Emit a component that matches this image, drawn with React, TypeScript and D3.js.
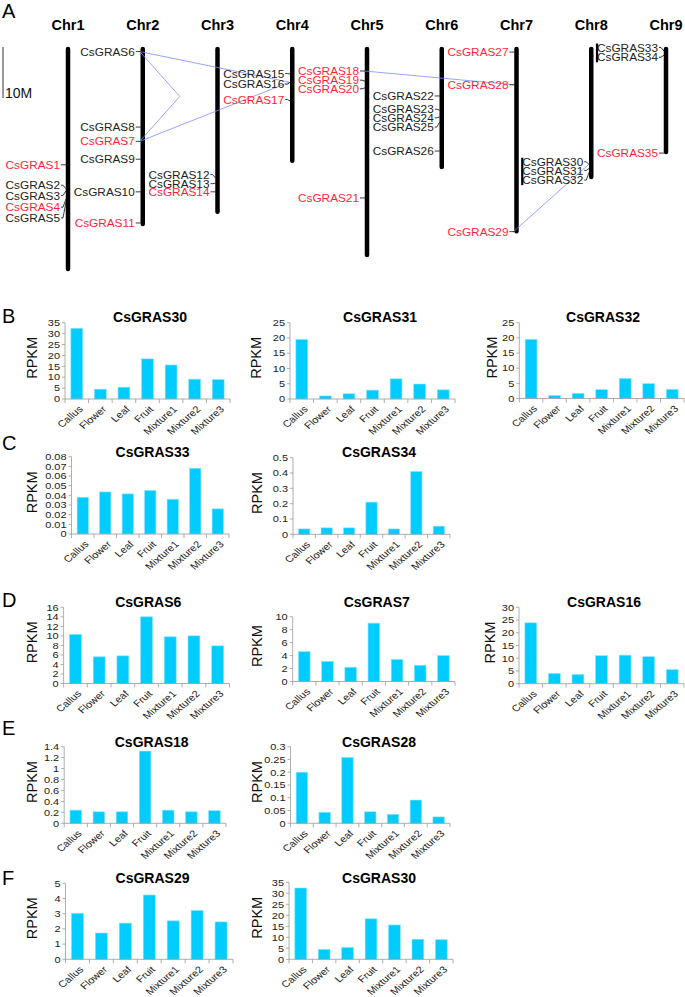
import React from "react";
import * as d3 from "d3";

// ---------- Panel A data ----------
const chromosomes = ["Chr1", "Chr2", "Chr3", "Chr4", "Chr5", "Chr6", "Chr7", "Chr8", "Chr9"];
const chromosomeLengthMb = [43.9, 35.1, 32.7, 22.7, 41.2, 23.9, 36.5, 25.9, 21.0];
const scaleBarMb = 10;

const geneNames = [
  "CsGRAS1", "CsGRAS2", "CsGRAS3", "CsGRAS4", "CsGRAS5",
  "CsGRAS6", "CsGRAS8", "CsGRAS7", "CsGRAS9", "CsGRAS10", "CsGRAS11",
  "CsGRAS12", "CsGRAS13", "CsGRAS14",
  "CsGRAS15", "CsGRAS16", "CsGRAS17",
  "CsGRAS18", "CsGRAS19", "CsGRAS20", "CsGRAS21",
  "CsGRAS22", "CsGRAS23", "CsGRAS24", "CsGRAS25", "CsGRAS26",
  "CsGRAS27", "CsGRAS28", "CsGRAS29",
  "CsGRAS30", "CsGRAS31", "CsGRAS32",
  "CsGRAS33", "CsGRAS34", "CsGRAS35",
];
const geneChromosome = [
  "Chr1", "Chr1", "Chr1", "Chr1", "Chr1",
  "Chr2", "Chr2", "Chr2", "Chr2", "Chr2", "Chr2",
  "Chr3", "Chr3", "Chr3",
  "Chr4", "Chr4", "Chr4",
  "Chr5", "Chr5", "Chr5", "Chr5",
  "Chr6", "Chr6", "Chr6", "Chr6", "Chr6",
  "Chr7", "Chr7", "Chr7",
  "Chr8", "Chr8", "Chr8",
  "Chr9", "Chr9", "Chr9",
];
const genePositionMb = [
  23.1, 27.8, 28.2, 29.8, 30.4,
  0.9, 15.7, 18.5, 22.0, 28.4, 34.5,
  25.7, 26.7, 28.4,
  5.3, 6.9, 10.6,
  4.7, 6.7, 8.0, 29.6,
  9.6, 12.4, 13.7, 14.7, 20.4,
  1.0, 7.4, 36.2,
  23.1, 23.8, 24.5,
  0.8, 1.6, 20.8,
];
const geneLabelMb = [
  23.1, 27.1, 29.1, 31.4, 33.5,
  0.9, 15.7, 18.5, 22.0, 28.4, 34.5,
  25.0, 26.8, 28.4,
  5.2, 7.3, 10.3,
  4.7, 6.5, 8.2, 29.6,
  9.6, 12.2, 13.9, 15.7, 20.4,
  1.0, 7.4, 36.2,
  22.5, 24.2, 26.1,
  0.1, 2.0, 20.8,
];
const geneHighlighted = [
  true, false, false, true, false,
  false, false, true, false, false, true,
  false, false, true,
  false, false, true,
  true, true, true, true,
  false, false, false, false, false,
  true, true, true,
  false, false, false,
  false, false, true,
];
const duplicatedPairs = [
  ["CsGRAS6", "CsGRAS16"],
  ["CsGRAS6", "CsGRAS7"],
  ["CsGRAS7", "CsGRAS16"],
  ["CsGRAS18", "CsGRAS28"],
  ["CsGRAS29", "CsGRAS30"],
];
const tandemGroups = [
  ["CsGRAS30", "CsGRAS31", "CsGRAS32"],
  ["CsGRAS33", "CsGRAS34"],
];

// ---------- Expression data ----------
const tissues = ["Callus", "Flower", "Leaf", "Fruit", "Mixture1", "Mixture2", "Mixture3"];
const rpkmCsGRAS30 = [32.4, 4.5, 5.4, 18.4, 15.6, 9.1, 8.9];
const rpkmCsGRAS31 = [19.5, 1.0, 1.7, 2.9, 6.6, 4.9, 3.0];
const rpkmCsGRAS32 = [19.5, 1.0, 1.7, 2.9, 6.6, 4.9, 3.0];
const rpkmCsGRAS33 = [0.038, 0.0435, 0.0415, 0.045, 0.036, 0.068, 0.026];
const rpkmCsGRAS34 = [0.035, 0.042, 0.042, 0.21, 0.035, 0.41, 0.053];
const rpkmCsGRAS6 = [10.3, 5.6, 5.8, 14.0, 9.8, 10.0, 7.9];
const rpkmCsGRAS7 = [4.6, 3.1, 2.2, 9.0, 3.4, 2.5, 4.0];
const rpkmCsGRAS16 = [23.9, 4.0, 3.6, 11.0, 11.2, 10.6, 5.5];
const rpkmCsGRAS18 = [0.24, 0.21, 0.21, 1.32, 0.24, 0.21, 0.23];
const rpkmCsGRAS28 = [0.2, 0.043, 0.258, 0.045, 0.035, 0.091, 0.025];
const rpkmCsGRAS29 = [3.03, 1.73, 2.38, 4.23, 2.53, 3.21, 2.46];

const chartTitles = ["CsGRAS30", "CsGRAS31", "CsGRAS32", "CsGRAS33", "CsGRAS34", "CsGRAS6", "CsGRAS7", "CsGRAS16", "CsGRAS18", "CsGRAS28", "CsGRAS29", "CsGRAS30"];
const chartValues = [rpkmCsGRAS30, rpkmCsGRAS31, rpkmCsGRAS32, rpkmCsGRAS33, rpkmCsGRAS34, rpkmCsGRAS6, rpkmCsGRAS7, rpkmCsGRAS16, rpkmCsGRAS18, rpkmCsGRAS28, rpkmCsGRAS29, rpkmCsGRAS30];
const chartAxisMax = [35, 25, 25, 0.08, 0.5, 16, 10, 30, 1.4, 0.3, 5, 35];
const chartAxisStep = [5, 5, 5, 0.01, 0.1, 2, 2, 5, 0.2, 0.05, 1, 5];
const panelLetters = ["A", "B", "C", "D", "E", "F"];
const axisLabel = "RPKM";

// ---------- Layout (not data) ----------
const FONT = "'Liberation Sans', Arial, Helvetica, sans-serif";
const RED = "#ff1f3d";
const BLUE_LINK = "#7f8cff";
const BAR = "#00ccff";
const AXIS = "#9a9a9a";
const SQUASH = 0.85;

const layouts = [
  { x0: 65, x1: 230, yTop: 322.7, yBottom: 399, titleX: 150, titleY: 317, labelX: 31.7 },
  { x0: 290, x1: 455, yTop: 322.7, yBottom: 399, titleX: 380, titleY: 317, labelX: 256 },
  { x0: 519.3, x1: 684, yTop: 322.7, yBottom: 398.5, titleX: 603, titleY: 317, labelX: 491.7 },
  { x0: 71.5, x1: 229, yTop: 456.7, yBottom: 534, titleX: 152.5, titleY: 451.7, labelX: 31.7 },
  { x0: 293, x1: 450, yTop: 457.7, yBottom: 534.3, titleX: 379, titleY: 451.7, labelX: 256.7 },
  { x0: 63.6, x1: 229.5, yTop: 607.3, yBottom: 683.5, titleX: 148.3, titleY: 601.7, labelX: 31.7 },
  { x0: 292.7, x1: 455, yTop: 616.7, yBottom: 681.5, titleX: 376.7, titleY: 601.7, labelX: 256.7 },
  { x0: 519, x1: 684, yTop: 607.3, yBottom: 683.7, titleX: 604, titleY: 601.7, labelX: 490 },
  { x0: 64.2, x1: 226, yTop: 746.7, yBottom: 823.3, titleX: 151.7, titleY: 741.7, labelX: 31.7 },
  { x0: 290.5, x1: 450, yTop: 746.7, yBottom: 823.3, titleX: 379, titleY: 741.7, labelX: 256.7 },
  { x0: 65.5, x1: 233, yTop: 883.3, yBottom: 959.3, titleX: 152.5, titleY: 878.3, labelX: 32.3 },
  { x0: 289, x1: 453, yTop: 882.3, yBottom: 959.3, titleX: 379, titleY: 878.3, labelX: 256.7 },
];
const letterPos = [
  [2, 18], [2, 323], [2, 450], [2, 607], [2, 735], [2, 885],
];

function fmt(v: number) {
  return String(+v.toFixed(4));
}

function BarChart({ idx }: { idx: number }) {
  const L = layouts[idx];
  const values = chartValues[idx];
  const yMax = chartAxisMax[idx];
  const yStep = chartAxisStep[idx];
  const x = d3.scaleBand<string>().domain(tissues).range([L.x0, L.x1]).paddingInner(0.5).paddingOuter(0.25);
  const y = d3.scaleLinear().domain([0, yMax]).range([L.yBottom, L.yTop]);
  const n = Math.round(yMax / yStep);
  const ticks = d3.range(0, n + 1).map((i) => +(i * yStep).toFixed(5));
  const step = (L.x1 - L.x0) / tissues.length;
  return (
    <g>
      <text x={L.titleX} y={L.titleY + 5} textAnchor="middle" fontWeight="bold" fontSize={14} fill="#000">
        {chartTitles[idx]}
      </text>
      <text
        transform={`translate(${L.labelX},${(L.yTop + L.yBottom) / 2 - 3}) rotate(-90)`}
        textAnchor="middle"
        dy="0.35em"
        fontSize={14.5}
        fill="#111"
      >
        {axisLabel}
      </text>
      {ticks.map((t) => (
        <g key={t}>
          <line x1={L.x0 - 3} x2={L.x0} y1={y(t)} y2={y(t)} stroke={AXIS} strokeWidth={0.8} />
          <text
            transform={`translate(${L.x0 - 5},${y(t)}) scale(1,${SQUASH})`}
            dy="0.35em"
            textAnchor="end"
            fontSize={11}
            fill="#222"
          >
            {fmt(t)}
          </text>
        </g>
      ))}
      {tissues.map((t, i) => (
        <rect
          key={t}
          x={x(t)}
          y={y(values[i])}
          width={x.bandwidth()}
          height={L.yBottom - y(values[i])}
          fill={BAR}
          stroke="#7fe3ff"
          strokeWidth={0.6}
        />
      ))}
      <line x1={L.x0} x2={L.x0} y1={L.yTop} y2={L.yBottom} stroke={AXIS} strokeWidth={0.8} />
      <line x1={L.x0} x2={L.x1} y1={L.yBottom} y2={L.yBottom} stroke={AXIS} strokeWidth={0.8} />
      {d3.range(0, tissues.length + 1).map((i) => (
        <line
          key={i}
          x1={L.x0 + i * step}
          x2={L.x0 + i * step}
          y1={L.yBottom}
          y2={L.yBottom + 4}
          stroke={AXIS}
          strokeWidth={0.8}
        />
      ))}
      {tissues.map((t) => {
        const cx = (x(t) as number) + x.bandwidth() / 2 + 4;
        const cy = L.yBottom + 8.5;
        return (
          <text
            key={t}
            transform={`translate(${cx},${cy}) scale(1,${SQUASH}) rotate(-45)`}
            textAnchor="end"
            dy="0.35em"
            fontSize={11}
            fill="#222"
          >
            {t}
          </text>
        );
      })}
    </g>
  );
}

function ChromosomeMap() {
  const cx = d3.scalePoint<string>().domain(chromosomes).range([68, 666]);
  const y = d3.scaleLinear().domain([0, 10]).range([47, 98]);
  const gi = (name: string) => geneNames.indexOf(name);
  const gx = (i: number) => cx(geneChromosome[i]) as number;
  return (
    <g>
      <line x1={3} x2={3} y1={y(0)} y2={y(scaleBarMb)} stroke="#333" strokeWidth={1} />
      <text x={5} y={y(scaleBarMb)} fontSize={14} fill="#111">10M</text>
      {chromosomes.map((c, i) => (
        <g key={c}>
          <text x={cx(c)} y={30} textAnchor="middle" fontWeight="bold" fontSize={14.5} fill="#000">
            {c}
          </text>
          <line
            x1={cx(c)}
            x2={cx(c)}
            y1={y(0) + 2}
            y2={y(chromosomeLengthMb[i]) - 2}
            stroke="#000"
            strokeWidth={4.5}
            strokeLinecap="round"
          />
        </g>
      ))}
      {duplicatedPairs.map(([a, b]) => {
        const i = gi(a);
        const j = gi(b);
        const xa = gx(i) - 3;
        const xb = gx(j) - 3;
        const ya = y(genePositionMb[i]);
        const yb = y(genePositionMb[j]);
        const d =
          geneChromosome[i] === geneChromosome[j]
            ? `M${xa},${ya} L${xa + 40},${(ya + yb) / 2} L${xb},${yb}`
            : `M${xa},${ya} L${xb},${yb}`;
        return <path key={a + b} d={d} fill="none" stroke={BLUE_LINK} strokeWidth={0.8} />;
      })}
      {tandemGroups.map((g) => {
        const idxs = g.map(gi);
        const bx = gx(idxs[0]) - 69;
        const y1 = y(geneLabelMb[idxs[0]]) - 4;
        const y2 = y(geneLabelMb[idxs[idxs.length - 1]]) + 5;
        return <line key={g[0]} x1={bx} x2={bx} y1={y1} y2={y2} stroke="#000" strokeWidth={2.2} />;
      })}
      {geneNames.map((name, i) => {
        const x0 = gx(i);
        const ly = y(geneLabelMb[i]);
        const py = y(genePositionMb[i]);
        return (
          <g key={name}>
            <path
              d={`M${x0 - 7},${ly} L${x0 - 5},${ly} L${x0 - 2},${py}`}
              fill="none"
              stroke="#222"
              strokeWidth={0.9}
            />
            <text
              x={x0 - 8}
              y={ly}
              dy="0.35em"
              textAnchor="end"
              fontSize={11.8}
              fill={geneHighlighted[i] ? RED : "#222"}
            >
              {name}
            </text>
          </g>
        );
      })}
    </g>
  );
}

export default function App() {
  return (
    <svg
      width={685}
      height={997}
      viewBox="0 0 685 997"
      style={{ position: "absolute", left: 0, top: 0, background: "#fff" }}
      fontFamily={FONT}
    >
      <rect x={0} y={0} width={685} height={997} fill="#fff" />
      {panelLetters.map((l, i) => (
        <text key={l} x={letterPos[i][0]} y={letterPos[i][1]} fontSize={20} fill="#000">
          {l}
        </text>
      ))}
      <ChromosomeMap />
      {layouts.map((_, i) => (
        <BarChart key={i} idx={i} />
      ))}
    </svg>
  );
}
